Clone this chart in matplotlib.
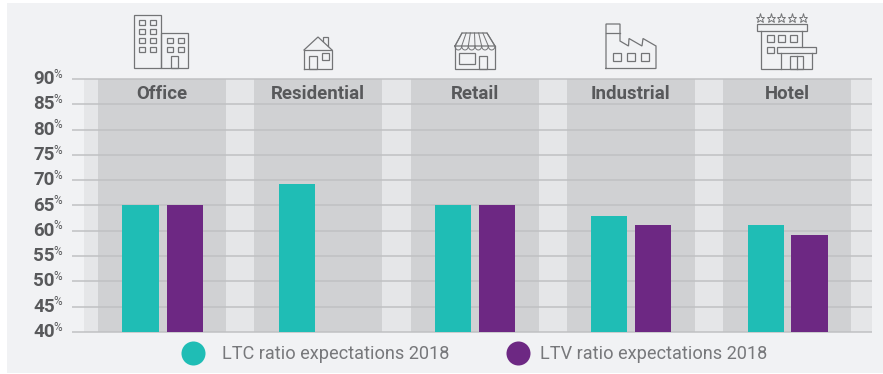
import numpy as np
import matplotlib
matplotlib.use("Agg")
import matplotlib.pyplot as plt
from matplotlib.lines import Line2D
from matplotlib.patches import Rectangle
from matplotlib.transforms import ScaledTranslation

categories = ["Office", "Residential", "Retail", "Industrial", "Hotel"]
ltc_values = [65, 69.2, 65, 63, 61.2]
ltv_values = [65, None, 65, 61.2, 59.2]
ltc_name = "LTC ratio expectations 2018"
ltv_name = "LTV ratio expectations 2018"
y_ticks = [40, 45, 50, 55, 60, 65, 70, 75, 80, 85, 90]

PANEL = "#f1f2f4"
LIGHT = "#e5e6e8"
DARK = "#d0d1d3"
GRID = "#c0c1c3"
TEAL = "#1fbdb5"
PURPLE = "#6d2883"
TEXT = "#58595b"
LEGEND_TEXT = "#77787b"
ICON = "#737476"

W, H = 883, 374
plt.rcParams["font.family"] = ["Roboto", "DejaVu Sans"]
fig = plt.figure(figsize=(W / 100, H / 100), dpi=100, facecolor="white")

# overlay in pixels for the panel and the icons
bg = fig.add_axes([0, 0, 1, 1], zorder=0)
bg.set_xlim(0, W)
bg.set_ylim(H, 0)
bg.axis("off")
bg.add_patch(Rectangle((7, 3), W - 7, 370, fc=PANEL, ec="none"))

# main axes: 72..872 px wide, 79..332 px tall
ax = fig.add_axes([72 / W, 1 - 332 / H, 800 / W, 253 / H], zorder=1)
ax.patch.set_alpha(0)
step = 156.25
ax.set_xlim((72 - 162) / step, (872 - 162) / step)
ax.set_ylim(40, 90)
for s in ax.spines.values():
    s.set_visible(False)

x = np.arange(len(categories))
band = 128 / step
ax.axvspan((84 - 162) / step, (872 - 162) / step, color=LIGHT, lw=0, zorder=0)
for i in x:
    ax.axvspan(i - band / 2, i + band / 2, color=DARK, lw=0, zorder=0.1)
ax.hlines(y_ticks, *ax.get_xlim(), color=GRID, lw=1.1, zorder=1, clip_on=False)

bar_w = 36 / step
off = 22 / step
nudge = 0.5 / step
for i in x:
    ax.bar(i - off + nudge, ltc_values[i], width=bar_w, color=TEAL, zorder=2)
    if ltv_values[i] is not None:
        ax.bar(i + off + nudge, ltv_values[i], width=bar_w, color=PURPLE, zorder=2)

ax.set_xticks([])
ax.set_yticks(y_ticks)
ax.set_yticklabels([str(v) for v in y_ticks], fontsize=13.5, fontweight="bold", color=TEXT)
ax.tick_params(axis="y", length=0, pad=13)
lift = ScaledTranslation(0.5 / 72, 1.4 / 72, fig.dpi_scale_trans)
for lab in ax.get_yticklabels():
    lab.set_transform(lab.get_transform() + lift)
for v in y_ticks:
    ax.annotate("%", xy=(0, v), xycoords=ax.get_yaxis_transform(), xytext=(-13.5, 3.5),
                textcoords="offset points", fontsize=8.5, color=TEXT, ha="left", va="center")
for i, name in zip(x, categories):
    ax.text(i, 87.1, name, ha="center", va="center", fontsize=13.4, fontweight="bold",
            color=TEXT, zorder=3)

# two legends, the gap to the text differs in the original
leg1 = fig.legend(handles=[Line2D([], [], ls="none", marker="o", ms=17.3, mfc=TEAL, mec="none", label=ltc_name)],
                  loc="center left", bbox_to_anchor=(181 / W, 1 - 354 / H), frameon=False, fontsize=13.05,
                  handlelength=1.33, handletextpad=0.92, borderpad=0, borderaxespad=0)
leg2 = fig.legend(handles=[Line2D([], [], ls="none", marker="o", ms=17.3, mfc=PURPLE, mec="none", label=ltv_name)],
                  loc="center left", bbox_to_anchor=(506 / W, 1 - 354 / H), frameon=False, fontsize=13.05,
                  handlelength=1.33, handletextpad=0.56, borderpad=0, borderaxespad=0)
for leg in (leg1, leg2):
    for t in leg.get_texts():
        t.set_color(LEGEND_TEXT)


def box(x0, y0, x1, y1, lw=0.9):
    bg.add_patch(Rectangle((x0, y0), x1 - x0, y1 - y0, fc="none", ec=ICON, lw=lw))


def path(pts, lw=0.9):
    xs, ys = zip(*pts)
    bg.plot(xs, ys, color=ICON, lw=lw, solid_joinstyle="miter")


# office
box(134, 15, 161, 68)
box(161, 33, 188, 68)
for wx in (139, 150):
    for wy in (19.5, 28.5, 37.5, 46.5):
        box(wx, wy, wx + 5.5, wy + 5.5)
for wx in (167, 178):
    for wy in (37.5, 46.5):
        box(wx, wy, wx + 5.5, wy + 5.5)
box(171, 56, 178, 68)

# house
path([(304, 69), (304, 50), (332, 50), (332, 69), (304, 69)])
path([(304, 50), (318, 37), (332, 50)])
path([(323, 41), (323, 37), (328, 37), (328, 46)])
box(309, 56, 317, 69)
box(322, 53, 329, 60)

# shop
path([(455, 46), (455, 68.5), (495, 68.5), (495, 46)])
path([(455, 46), (462, 33), (487, 33), (495, 46), (455, 46)])
top = [462 + 25 * k / 6 for k in range(7)]
low = [455 + 40 * k / 6 for k in range(7)]
for a, b in zip(top, low):
    path([(a, 33), (b, 46)], lw=0.7)
for a, b in zip(low[:-1], low[1:]):
    t = np.linspace(0, np.pi, 12)
    path(list(zip((a + b) / 2 - (b - a) / 2 * np.cos(t), 46 + 4 * np.sin(t))), lw=0.7)
box(459, 53, 475, 64)
box(479, 56, 487, 68.5)

# factory
path([(606, 68.5), (606, 24), (620, 24), (620, 41), (628.5, 46), (629, 38.5), (642, 46),
      (643, 38.5), (656, 46), (656, 68.5), (606, 68.5)])
path([(606, 33), (620, 33)])
for wx in (613, 627, 641):
    box(wx, 53, wx + 7.5, 60.5)

# hotel
bg.plot([760, 770.5, 781, 792, 803], [18] * 5, ls="none", marker="*", ms=6.5, mfc="none", mec=ICON, mew=0.7)
box(757, 24, 807, 31)
path([(761, 31), (761, 68.5), (812, 68.5), (812, 53)])
path([(802, 31), (802, 47)])
box(777, 47, 816, 53)
path([(781, 53), (781, 68.5)])
box(790, 56, 803, 68.5)
path([(796.5, 56), (796.5, 68.5)])
for wx in (767, 778, 790):
    box(wx, 35, wx + 6.5, 41.5)
box(767, 47, 773.5, 53)

bg.set_xlim(0, W)
bg.set_ylim(H, 0)
fig.savefig("out.png", dpi=100, facecolor="white")
